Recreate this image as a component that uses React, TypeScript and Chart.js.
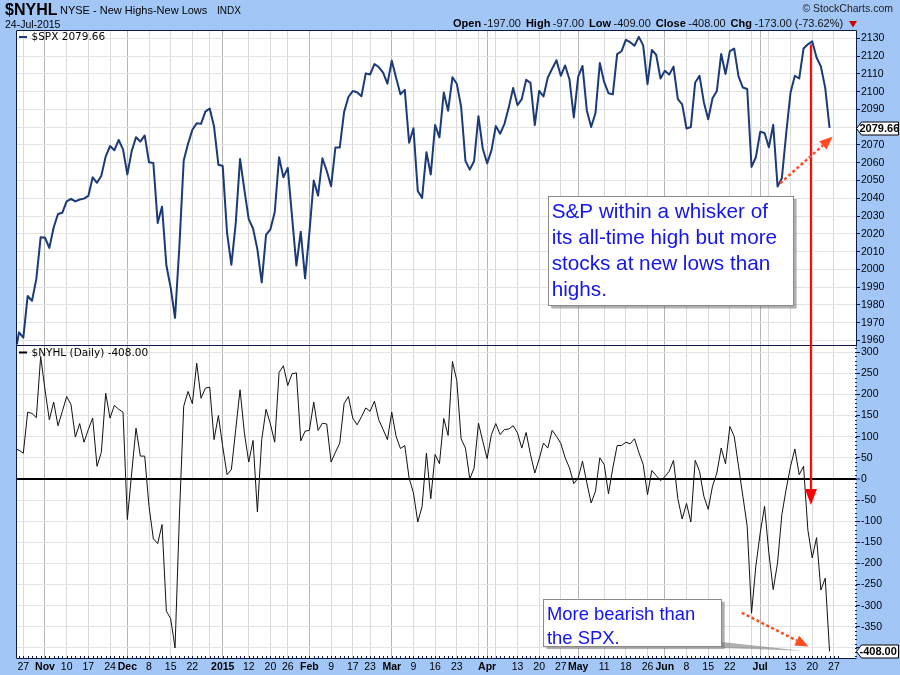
import React, { useEffect, useRef } from "react";
import { Chart, registerables } from "chart.js";

Chart.register(...registerables);

const SANS = '"Liberation Sans", Arial, sans-serif';
const DEJAVU = '"DejaVu Sans", Verdana, sans-serif';

// ---- data (index 0 = 23-Oct-2014 ... index 188 = 24-Jul-2015, trading days) ----
const spx: number[] = [
  // Oct
  1950.82, 1964.58, 1961.63, 1985.05, 1982.3, 1994.65, 2018.05,
  // Nov
  2017.81, 2012.1, 2023.57, 2031.21, 2031.92, 2038.26, 2039.68, 2038.25, 2039.33, 2039.82,
  2041.32, 2051.8, 2048.72, 2052.75, 2063.5, 2069.41, 2067.03, 2072.83, 2067.56,
  // Dec
  2053.44, 2066.55, 2074.33, 2071.92, 2075.37, 2060.31, 2059.82, 2026.14, 2035.33, 2002.33,
  1989.63, 1972.74, 2012.89, 2061.23, 2070.65, 2078.54, 2082.17, 2081.88, 2088.77, 2090.57,
  2080.35, 2058.9,
  // Jan
  2058.2, 2020.58, 2002.61, 2025.9, 2062.14, 2044.81, 2028.26, 2023.03, 2011.27, 1992.67,
  2019.42, 2022.55, 2032.12, 2063.15, 2051.82, 2057.09, 2029.55, 2002.16, 2021.25, 1994.99,
  // Feb
  2020.85, 2050.03, 2041.51, 2062.52, 2055.47, 2046.74, 2068.59, 2068.53, 2088.48, 2096.99,
  2100.34, 2099.68, 2097.45, 2110.3, 2109.66, 2115.48, 2113.86, 2110.74, 2104.5,
  // Mar
  2117.39, 2107.78, 2098.53, 2101.04, 2071.26, 2079.43, 2044.16, 2040.24, 2065.95, 2053.4,
  2081.19, 2074.28, 2099.5, 2089.27, 2108.1, 2104.42, 2091.5, 2061.05, 2056.15, 2061.02,
  2086.24, 2067.89,
  // Apr
  2059.69, 2066.96, 2080.62, 2076.33, 2081.9, 2091.18, 2102.06, 2092.43, 2095.84, 2106.63,
  2104.99, 2081.18, 2100.4, 2097.29, 2107.96, 2112.93, 2117.69, 2108.92, 2114.76, 2106.85,
  2085.51,
  // May
  2108.29, 2114.49, 2089.46, 2080.15, 2088.0, 2116.1, 2105.33, 2099.12, 2098.48, 2121.1,
  2122.73, 2129.2, 2127.83, 2125.85, 2130.82, 2126.06, 2104.2, 2123.48, 2120.79, 2107.39,
  // Jun
  2111.73, 2109.6, 2114.07, 2095.84, 2092.83, 2079.28, 2080.15, 2105.2, 2108.86, 2094.11,
  2084.43, 2096.29, 2100.44, 2121.24, 2109.99, 2122.85, 2124.2, 2108.58, 2102.31, 2101.49,
  2057.64, 2063.11,
  // Jul
  2077.42, 2076.78, 2068.76, 2081.34, 2046.68, 2051.31, 2076.62, 2099.6, 2108.95, 2107.4,
  2124.29, 2126.64, 2128.28, 2119.21, 2114.15, 2102.15, 2079.66,
];

const nyhl: number[] = [
  72, 68, 61, 158, 155, 145, 290, 211, 140, 182,
  126, 160, 195, 176, 99, 131, 87, 117, 144, 30,
  63, 203, 144, 174, 165, 158, -96, 14, 120, 54,
  54, -65, -142, -153, -108, -313, -331, -400, -90, 172,
  207, 178, 274, 191, 215, 217, 93, 150, 77, 10,
  22, 117, 211, 109, 40, 91, -78, 93, 165, 130,
  87, 252, 268, 221, 249, 251, 90, 113, 115, 182,
  115, 132, 130, 40, 63, 85, 178, 195, 144, 128,
  147, 168, 160, 184, 140, 117, 93, 158, 101, 72,
  79, 2, -33, -102, -65, 61, -47, 58, 36, 143,
  103, 278, 233, 95, 73, 0, 26, 132, 89, 48,
  105, 131, 105, 117, 118, 126, 109, 73, 110, 58,
  14, 47, 85, 73, 115, 101, 84, 50, 26, -11,
  2, 42, -9, -57, -29, 50, 34, -35, 26, 79,
  79, 87, 83, 95, 63, 34, -37, 20, 8, -4,
  5, 18, 44, -47, -95, -58, -102, 44, 18, -41,
  -72, -17, 14, 73, 36, 124, 101, 30, -41, -112,
  -318, -206, -128, -65, -175, -262, -199, -84, -24, 30,
  71, 10, 30, -121, -187, -139, -263, -235, -408,
];

const xTickIdx = [
  2, 7, 12, 17, 22, 26, 31, 36, 41, 45, 48, 54, 59, 63, 68, 73, 78, 82, 87, 92, 97, 102, 107,
  109, 111, 116, 121, 126, 130, 136, 141, 146, 150, 155, 160, 165, 170, 172, 174, 179, 184, 189,
];
const xTickLabels = [
  "27", "Nov", "10", "17", "24", "Dec", "8", "15", "22", "", "2015", "12", "20", "26", "Feb", "9", "17", "23", "Mar", "9", "16", "23", "",
  "Apr", "", "13", "20", "27", "May", "11", "18", "26", "Jun", "8", "15", "22", "", "Jul", "", "13", "20", "27",
];
const yTopTicks = [2130, 2120, 2110, 2100, 2090, 2080, 2070, 2060, 2050, 2040, 2030, 2020, 2010, 2000, 1990, 1980, 1970, 1960];
const yBotTicks = [300, 250, 200, 150, 100, 50, 0, -50, -100, -150, -200, -250, -300, -350, -400];

const header = { symbol: "$NYHL", name: "NYSE - New Highs-New Lows", exch: "INDX", date: "24-Jul-2015", copy: "\u00A9 StockCharts.com" };
const ohlcLabels = ["Open", "High", "Low", "Close", "Chg"];
const ohlcValues = ["-197.00", "-97.00", "-409.00", "-408.00", "-173.00 (-73.62%)"];
const spxLegend = "$SPX 2079.66";
const nyhlLegend = "$NYHL (Daily) -408.00";
const spxTag = "2079.66";
const nyhlTag = "-408.00";
const note1 = ["S&P within a whisker of", "its all-time high but more", "stocks at new lows than", "highs."];
const note2 = ["More bearish than", "the SPX."];

// annotation anchors in data coordinates (x = trading-day index)
const redArrow = { x: 183.7, from: 2126.5, to: -62 };
const topTrend = { x0: 176.6, y0: 2048.5, x1: 188.7, y1: 2074.6 };
const botTrend = { x0: 167.75, y0: -316.8, x1: 183.1, y1: -396.5 };
const box1 = { x0: 123.1, x1: 179.7, y0: 2041.3, y1: 1979.7 };
const box2 = { x0: 122.0, x1: 163.1, y0: -283.7, y1: -395.7, px: 181.2, py: -403.5 };

const BLUE_BG = "rgb(162,199,247)";
const NAVY = "#0b1a4a";

const isMajor = (i: number) => (xTickLabels[i] || "").length > 2;

function drawArrow(ctx: CanvasRenderingContext2D, x1: number, y1: number, x2: number, y2: number,
  color: string, width: number, dash: number[], headLen: number, headW: number) {
  const ang = Math.atan2(y2 - y1, x2 - x1);
  const bx = x2 - headLen * Math.cos(ang);
  const by = y2 - headLen * Math.sin(ang);
  ctx.save();
  ctx.strokeStyle = color;
  ctx.lineWidth = width;
  ctx.setLineDash(dash);
  ctx.beginPath();
  ctx.moveTo(x1, y1);
  ctx.lineTo(bx, by);
  ctx.stroke();
  ctx.setLineDash([]);
  ctx.fillStyle = color;
  ctx.beginPath();
  ctx.moveTo(x2, y2);
  ctx.lineTo(bx + (headW / 2) * Math.sin(ang), by - (headW / 2) * Math.cos(ang));
  ctx.lineTo(bx - (headW / 2) * Math.sin(ang), by + (headW / 2) * Math.cos(ang));
  ctx.closePath();
  ctx.fill();
  ctx.restore();
}

const overlayPlugin = {
  id: "overlay",
  beforeDraw(chart: any) {
    const { ctx, chartArea: a } = chart;
    ctx.save();
    ctx.fillStyle = BLUE_BG;
    ctx.fillRect(0, 0, chart.width, chart.height);
    ctx.fillStyle = "#ffffff";
    ctx.fillRect(a.left, a.top, a.right - a.left, a.bottom - a.top);
    ctx.restore();
  },
  afterDraw(chart: any) {
    const { ctx, chartArea: a } = chart;
    const xs = chart.scales.x;
    const yt = chart.scales.yTop;
    const yb = chart.scales.yBot;
    ctx.save();

    // frame and panel separator
    ctx.strokeStyle = NAVY;
    ctx.lineWidth = 1;
    const L = Math.round(a.left) + 0.5, R = Math.round(a.right) + 0.5;
    const T = Math.round(a.top) + 0.5, B = Math.round(a.bottom) - 0.5;
    const S = Math.round(yb.top) + 0.5;
    ctx.beginPath();
    ctx.moveTo(L, T); ctx.lineTo(R, T); ctx.lineTo(R, S);
    ctx.moveTo(L, T); ctx.lineTo(L, B); ctx.lineTo(R, B);
    ctx.moveTo(L, S); ctx.lineTo(R, S);
    ctx.stroke();
    // dotted right border of lower panel
    ctx.fillStyle = NAVY;
    for (let v = -420; v <= 310; v += 10) {
      const y = Math.round(yb.getPixelForValue(v));
      if (y < yb.top || y > yb.bottom) continue;
      ctx.fillRect(Math.round(a.right) - 1, y, 2, 1);
    }
    ctx.fillRect(Math.round(a.right), S, 1, 1);
    // day ticks along bottom
    for (let i = 0; i <= 190; i++) {
      const x = Math.round(xs.getPixelForValue(i));
      if (x < a.left || x > a.right) continue;
      ctx.fillRect(x, Math.round(a.bottom) - 3, 1, 3);
    }

    // legends
    ctx.textBaseline = "middle";
    ctx.textAlign = "left";
    ctx.fillStyle = "#1b3a78";
    ctx.fillRect(a.left + 3, yt.top + 6, 8, 2);
    ctx.font = `10.5px ${DEJAVU}`;
    ctx.fillStyle = "#000";
    ctx.fillText(spxLegend, a.left + 15.5, yt.top + 7.5);
    ctx.fillStyle = "#000";
    ctx.fillRect(a.left + 3, yb.top + 7, 8, 2);
    ctx.fillText(nyhlLegend, a.left + 15.5, yb.top + 8.5);

    // header
    ctx.fillStyle = "#000";
    ctx.font = `bold 16px ${SANS}`;
    ctx.fillText(header.symbol, 5, 11);
    ctx.font = `11px ${SANS}`;
    ctx.fillText(header.name, 60, 11);
    ctx.font = `10px ${SANS}`;
    ctx.fillText(header.exch, 217, 11);
    ctx.font = `10.5px ${SANS}`;
    ctx.fillText(header.date, 5, 25);
    ctx.textAlign = "right";
    ctx.fillStyle = "#222";
    ctx.font = `10.5px ${SANS}`;
    ctx.fillText(header.copy, 893, 9);
    ctx.textAlign = "left";
    // OHLC line
    let hx = 453;
    for (let k = 0; k < ohlcLabels.length; k++) {
      ctx.font = `bold 11px ${SANS}`;
      ctx.fillStyle = "#000";
      ctx.fillText(ohlcLabels[k], hx, 24);
      hx += ctx.measureText(ohlcLabels[k]).width + 2.5;
      ctx.font = `11px ${SANS}`;
      ctx.fillStyle = "#111";
      ctx.fillText(ohlcValues[k], hx, 24);
      hx += ctx.measureText(ohlcValues[k]).width + 5;
    }
    ctx.fillStyle = "#cc0000";
    ctx.beginPath();
    ctx.moveTo(849, 21); ctx.lineTo(857, 21); ctx.lineTo(853, 27.5);
    ctx.closePath();
    ctx.fill();

    // value tags on the right axis
    const tag = (y: number, text: string) => {
      const x0 = Math.round(a.right) + 0.5;
      ctx.beginPath();
      ctx.moveTo(x0, y);
      ctx.lineTo(x0 + 5, y - 6.5);
      ctx.lineTo(898.5, y - 6.5);
      ctx.lineTo(898.5, y + 6.5);
      ctx.lineTo(x0 + 5, y + 6.5);
      ctx.closePath();
      ctx.fillStyle = "#fff";
      ctx.fill();
      ctx.strokeStyle = "#000";
      ctx.lineWidth = 1;
      ctx.stroke();
      ctx.fillStyle = "#000";
      ctx.font = `bold 11px ${SANS}`;
      ctx.textAlign = "left";
      ctx.fillText(text, x0 + 3, y + 0.5);
    };
    tag(Math.round(yt.getPixelForValue(spx[spx.length - 1])) + 0.5, spxTag);
    tag(Math.round(yb.getPixelForValue(nyhl[nyhl.length - 1])) + 0.5, nyhlTag);

    // text box 1
    const b1x0 = xs.getPixelForValue(box1.x0), b1x1 = xs.getPixelForValue(box1.x1);
    const b1y0 = yt.getPixelForValue(box1.y0), b1y1 = yt.getPixelForValue(box1.y1);
    ctx.fillStyle = "rgba(110,110,110,0.55)";
    ctx.fillRect(b1x0 + 3, b1y0 + 3, b1x1 - b1x0, b1y1 - b1y0);
    ctx.fillStyle = "#fff";
    ctx.fillRect(b1x0, b1y0, b1x1 - b1x0, b1y1 - b1y0);
    ctx.strokeStyle = "#8a8a8a";
    ctx.strokeRect(Math.round(b1x0) + 0.5, Math.round(b1y0) + 0.5, Math.round(b1x1 - b1x0), Math.round(b1y1 - b1y0));
    ctx.fillStyle = "#1414ee";
    ctx.font = `20.7px ${SANS}`;
    ctx.textBaseline = "middle";
    note1.forEach((t, k) => ctx.fillText(t, b1x0 + 3.5, b1y0 + 16.5 + k * 26));

    // text box 2 with callout pointer
    const b2x0 = xs.getPixelForValue(box2.x0), b2x1 = xs.getPixelForValue(box2.x1);
    const b2y0 = yb.getPixelForValue(box2.y0), b2y1 = yb.getPixelForValue(box2.y1);
    const px = xs.getPixelForValue(box2.px), py = yb.getPixelForValue(box2.py);
    ctx.fillStyle = "rgba(110,110,110,0.55)";
    ctx.beginPath();
    ctx.moveTo(b2x1, b2y1 - 4);
    ctx.lineTo(px + 2, py + 1.5);
    ctx.lineTo(b2x1, b2y1 + 2);
    ctx.closePath();
    ctx.fill();
    ctx.fillRect(b2x0 + 3, b2y0 + 3, b2x1 - b2x0, b2y1 - b2y0);
    ctx.fillStyle = "#fff";
    ctx.fillRect(b2x0, b2y0, b2x1 - b2x0, b2y1 - b2y0);
    ctx.strokeStyle = "#8a8a8a";
    ctx.strokeRect(Math.round(b2x0) + 0.5, Math.round(b2y0) + 0.5, Math.round(b2x1 - b2x0), Math.round(b2y1 - b2y0));
    ctx.fillStyle = "#1414ee";
    ctx.font = `18.4px ${SANS}`;
    note2.forEach((t, k) => ctx.fillText(t, b2x0 + 3.5, b2y0 + 16.5 + k * 23.3));

    // red vertical arrow
    const rx = xs.getPixelForValue(redArrow.x);
    drawArrow(ctx, rx, yt.getPixelForValue(redArrow.from), rx, yb.getPixelForValue(redArrow.to),
      "#ff0000", 2, [], 16, 12);
    // dotted trend arrows
    drawArrow(ctx, xs.getPixelForValue(topTrend.x0), yt.getPixelForValue(topTrend.y0),
      xs.getPixelForValue(topTrend.x1), yt.getPixelForValue(topTrend.y1), "#ff4a22", 2.5, [3, 2.5], 13, 11);
    drawArrow(ctx, xs.getPixelForValue(botTrend.x0), yb.getPixelForValue(botTrend.y0),
      xs.getPixelForValue(botTrend.x1), yb.getPixelForValue(botTrend.y1), "#ff4a22", 2.5, [3, 2.5], 13, 11);

    ctx.restore();
  },
};

export default function App() {
  const ref = useRef<HTMLCanvasElement | null>(null);

  useEffect(() => {
    if (!ref.current) return;
    const lastSpx = spx[spx.length - 1];
    const lastNyhl = nyhl[nyhl.length - 1];
    const chart = new Chart(ref.current, {
      type: "line",
      data: {
        datasets: [
          {
            label: "$SPX",
            data: spx.map((v, i) => ({ x: i, y: v })),
            yAxisID: "yTop",
            borderColor: "#1b3a78",
            borderWidth: 2,
            pointRadius: 0,
            tension: 0,
            borderJoinStyle: "round",
          },
          {
            label: "$NYHL",
            data: nyhl.map((v, i) => ({ x: i, y: v })),
            yAxisID: "yBot",
            borderColor: "#111111",
            borderWidth: 1,
            pointRadius: 0,
            tension: 0,
          },
        ],
      },
      options: {
        animation: false,
        responsive: false,
        devicePixelRatio: 1,
        layout: { padding: { left: 16, top: 30, right: 0, bottom: 0 } },
        plugins: { legend: { display: false }, tooltip: { enabled: false }, title: { display: false } },
        scales: {
          x: {
            type: "linear",
            position: "bottom",
            min: 0.31,
            max: 194.1,
            afterBuildTicks: (s: any) => { s.ticks = xTickIdx.map((v) => ({ value: v })); },
            afterFit: (s: any) => { s.height = 16; },
            border: { display: false },
            grid: {
              drawTicks: false,
              color: (c: any) => (isMajor(c.index) ? "#b4b4b4" : "#d9d9d9"),
              lineWidth: 1,
            },
            ticks: {
              autoSkip: false,
              maxRotation: 0,
              minRotation: 0,
              padding: 2,
              color: "#000",
              font: (c: any) => ({ family: SANS, size: 10.5, weight: isMajor(c.index) ? "bold" : "normal" }),
              callback: (_v: any, i: number) => xTickLabels[i],
            },
          },
          yTop: {
            type: "linear",
            position: "right",
            stack: "panels",
            stackWeight: 1,
            min: 1957.75,
            max: 2134.7,
            afterBuildTicks: (s: any) => { s.ticks = yTopTicks.map((v) => ({ value: v })); },
            afterFit: (s: any) => { s.width = 44; },
            border: { display: false },
            grid: { color: "#e3e3e3", tickColor: NAVY, tickLength: 4, tickWidth: 1 },
            ticks: {
              autoSkip: false,
              padding: 1,
              color: "#000",
              font: { family: SANS, size: 10.5 },
              callback: (v: any) => (Math.abs(v - lastSpx) < 5 ? "" : String(v)),
            },
          },
          yBot: {
            type: "linear",
            position: "right",
            stack: "panels",
            stackWeight: 1,
            min: -426.3,
            max: 318.2,
            afterBuildTicks: (s: any) => { s.ticks = yBotTicks.map((v) => ({ value: v })); },
            afterFit: (s: any) => { s.width = 44; },
            border: { display: false },
            grid: {
              color: (c: any) => (c.tick && c.tick.value === 0 ? "#000" : "#e3e3e3"),
              lineWidth: (c: any) => (c.tick && c.tick.value === 0 ? 2 : 1),
              tickColor: NAVY,
              tickLength: 4,
              tickWidth: 1,
            },
            ticks: {
              autoSkip: false,
              padding: 1,
              color: "#000",
              font: { family: SANS, size: 10.5 },
              callback: (v: any) => (Math.abs(v - lastNyhl) < 25 ? "" : String(v)),
            },
          },
        },
      } as any,
      plugins: [overlayPlugin],
    });
    return () => chart.destroy();
  }, []);

  return (
    <div style={{ position: "absolute", left: 0, top: 0, width: 900, height: 675 }}>
      <canvas ref={ref} width={900} height={675} style={{ display: "block", width: 900, height: 675 }} />
    </div>
  );
}
